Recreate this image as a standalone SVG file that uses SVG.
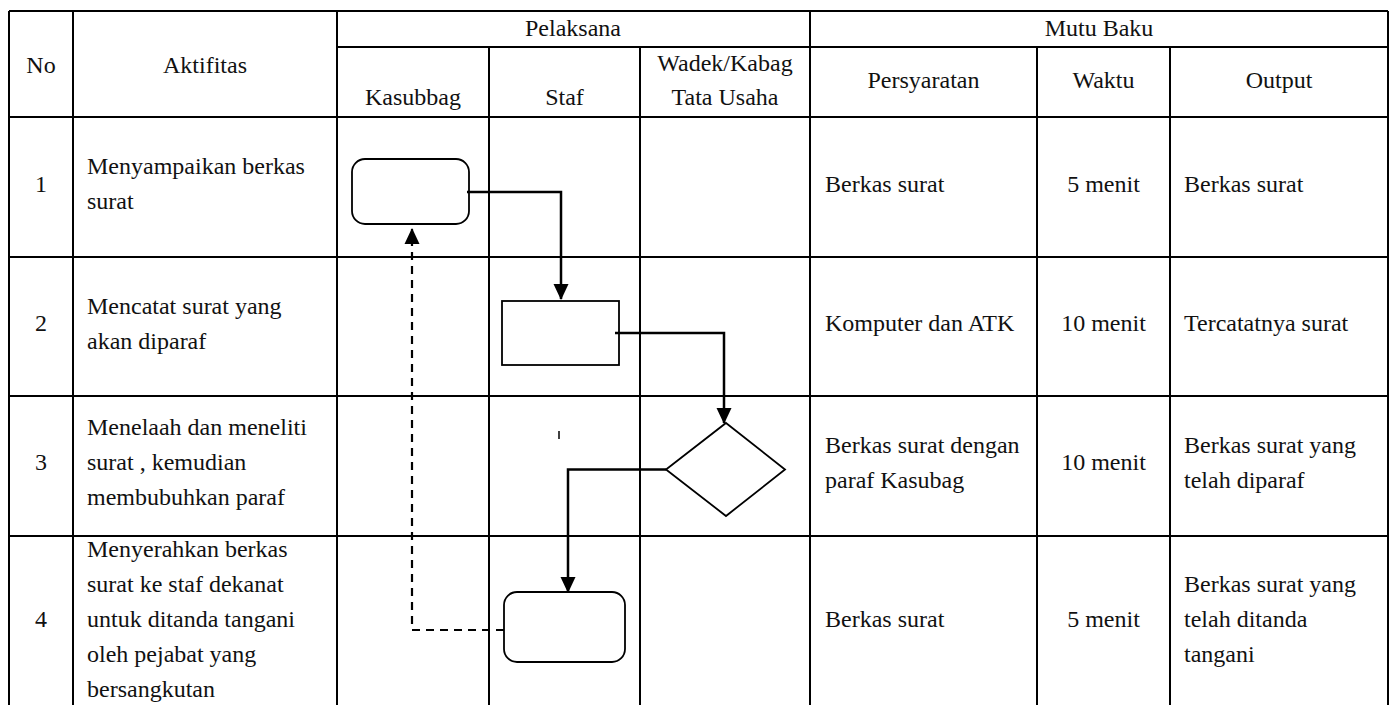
<svg xmlns="http://www.w3.org/2000/svg" width="1396" height="705" viewBox="0 0 1396 705">
  <style>
    .grid { stroke: #000; stroke-width: 2; fill: none; }
    .txt text { font-size: 24px; fill: #111; }
    .c { text-anchor: middle; }
    .shape { fill: #fff; stroke: #000; stroke-width: 1.8; }
    .flow { fill: none; stroke: #000; stroke-width: 2.5; }
    .dash { fill: none; stroke: #000; stroke-width: 2.2; stroke-dasharray: 8 6; }
  </style>
  <defs>
    <marker id="arrow" markerUnits="userSpaceOnUse" markerWidth="16" markerHeight="16" viewBox="0 0 16 16" refX="15" refY="8" orient="auto">
      <path d="M0,0.5 L16,8 L0,15.5 Z" fill="#000"/>
    </marker>
  </defs>
  <rect width="1396" height="705" fill="#fff"/>

  <!-- table grid -->
  <g id="table" class="grid">
    <path d="M9,11 H1388 M337,47 H1388 M9,117 H1388 M9,257 H1388 M9,396 H1388 M9,536 H1388"/>
    <path d="M9,11 V705 M73,11 V705 M337,11 V705 M489,47 V705 M640,47 V705 M810,11 V705 M1037,47 V705 M1170,47 V705 M1388,11 V705"/>
  </g>

  <g class="txt" font-family="Liberation Serif, DejaVu Serif, serif">
    <!-- header -->
    <g id="header">
      <text class="c" x="41" y="73">No</text>
      <text class="c" x="205" y="73">Aktifitas</text>
      <text class="c" x="573" y="36">Pelaksana</text>
      <text class="c" x="1099" y="36">Mutu Baku</text>
      <text class="c" x="413" y="105">Kasubbag</text>
      <text class="c" x="564.5" y="105">Staf</text>
      <text class="c" x="725" y="71">Wadek/Kabag</text>
      <text class="c" x="725" y="105">Tata Usaha</text>
      <text class="c" x="923.5" y="88">Persyaratan</text>
      <text class="c" x="1103.5" y="88">Waktu</text>
      <text class="c" x="1279" y="88">Output</text>
    </g>

    <!-- row 1 -->
    <g id="row1">
      <text class="c" x="41" y="192">1</text>
      <text x="87" y="174">Menyampaikan berkas</text>
      <text x="87" y="209">surat</text>
      <text x="825" y="192">Berkas surat</text>
      <text class="c" x="1103.5" y="192">5 menit</text>
      <text x="1184" y="192">Berkas surat</text>
    </g>

    <!-- row 2 -->
    <g id="row2">
      <text class="c" x="41" y="331">2</text>
      <text x="87" y="314">Mencatat surat yang</text>
      <text x="87" y="349">akan diparaf</text>
      <text x="825" y="331">Komputer dan ATK</text>
      <text class="c" x="1103.5" y="331">10 menit</text>
      <text x="1184" y="331">Tercatatnya surat</text>
    </g>

    <!-- row 3 -->
    <g id="row3">
      <text class="c" x="41" y="470">3</text>
      <text x="87" y="435">Menelaah dan meneliti</text>
      <text x="87" y="470">surat , kemudian</text>
      <text x="87" y="505">membubuhkan paraf</text>
      <text x="825" y="453">Berkas surat dengan</text>
      <text x="825" y="488">paraf Kasubag</text>
      <text class="c" x="1103.5" y="470">10 menit</text>
      <text x="1184" y="453">Berkas surat yang</text>
      <text x="1184" y="488">telah diparaf</text>
    </g>

    <!-- row 4 -->
    <g id="row4">
      <text class="c" x="41" y="627">4</text>
      <text x="87" y="557">Menyerahkan berkas</text>
      <text x="87" y="592">surat ke staf dekanat</text>
      <text x="87" y="627">untuk ditanda tangani</text>
      <text x="87" y="662">oleh pejabat yang</text>
      <text x="87" y="697">bersangkutan</text>
      <text x="825" y="627">Berkas surat</text>
      <text class="c" x="1103.5" y="627">5 menit</text>
      <text x="1184" y="592">Berkas surat yang</text>
      <text x="1184" y="627">telah ditanda</text>
      <text x="1184" y="662">tangani</text>
    </g>
  </g>

  <!-- flow nodes -->
  <g id="node-start"><rect class="shape" x="352" y="159" width="117" height="65" rx="13"/></g>
  <g id="node-record"><rect class="shape" x="502" y="301" width="117" height="64"/></g>
  <g id="node-review"><path class="shape" d="M726,423 L785,469.5 L726,516 L666,469.5 Z"/></g>
  <g id="node-hand-over"><rect class="shape" x="504" y="592" width="121" height="70" rx="13"/></g>

  <!-- connectors -->
  <g id="connectors">
    <path class="flow" d="M467,192 H561 V299" marker-end="url(#arrow)"/>
    <path class="flow" d="M615,333 H724 V423" marker-end="url(#arrow)"/>
    <path class="flow" d="M666,469.5 H568 V592" marker-end="url(#arrow)"/>
    <path class="dash" d="M504,630 H412 V229" marker-end="url(#arrow)"/>
    <path d="M559,431 V439" stroke="#000" stroke-width="1.5"/>
  </g>
</svg>
